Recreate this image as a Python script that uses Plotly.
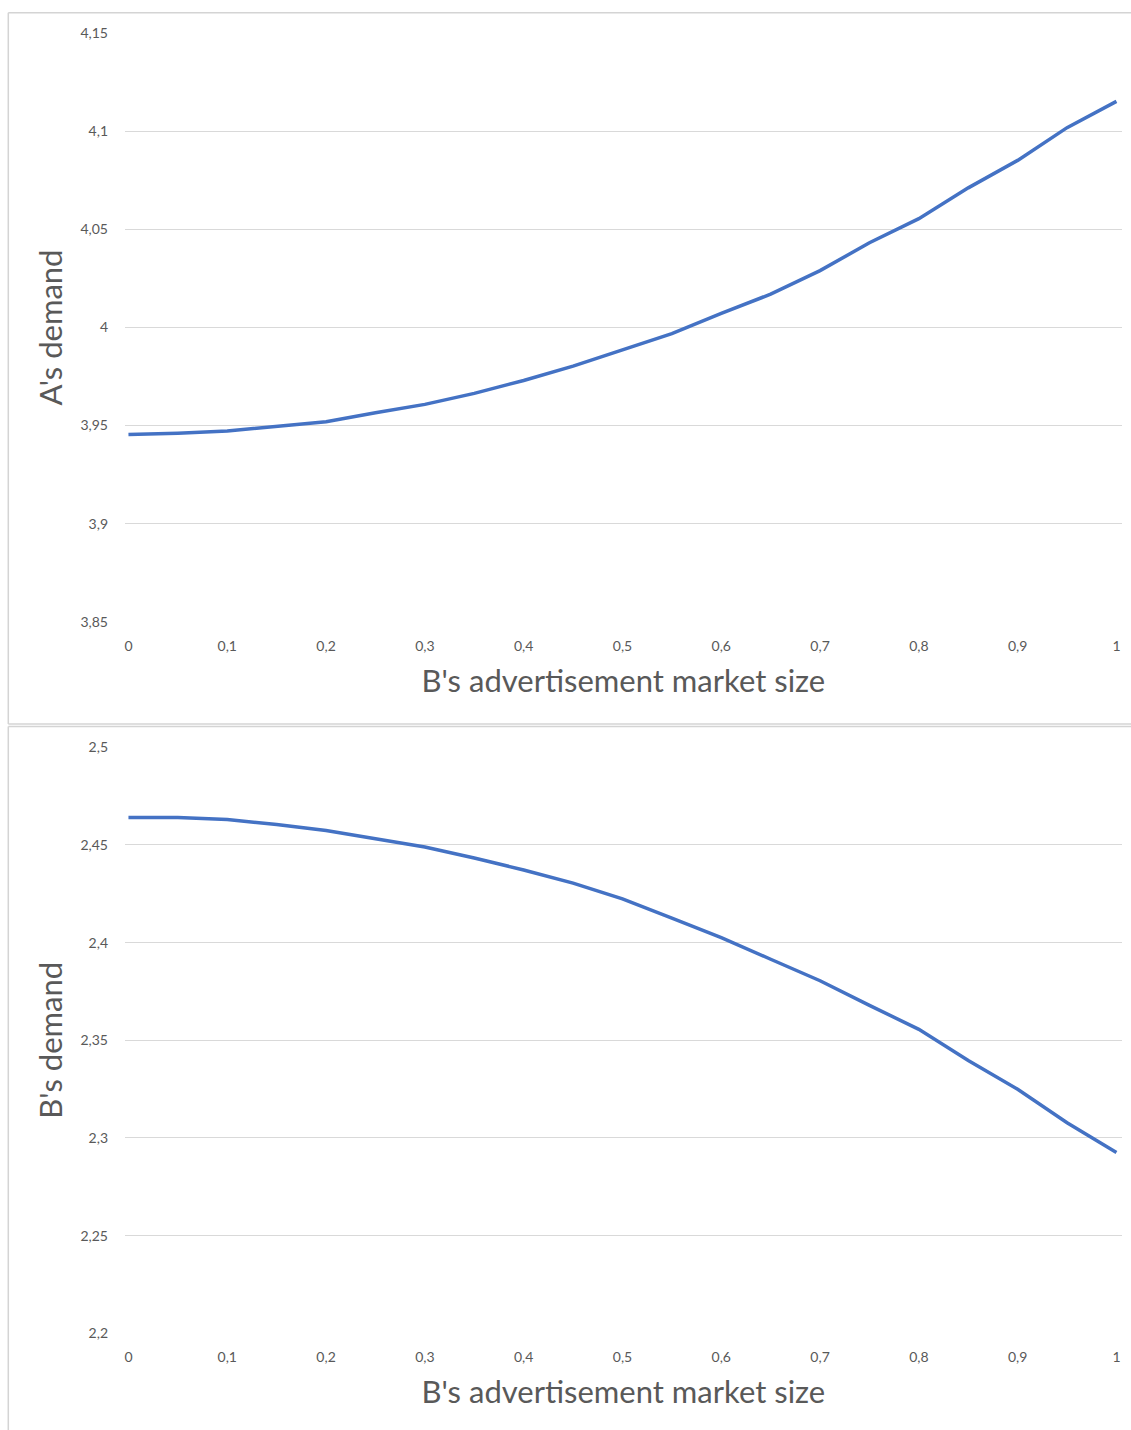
import plotly.graph_objects as go

# B's advertisement market size (horizontal axis, shared by both panels)
market_size = [0.00, 0.05, 0.10, 0.15, 0.20, 0.25, 0.30, 0.35, 0.40, 0.45, 0.50,
               0.55, 0.60, 0.65, 0.70, 0.75, 0.80, 0.85, 0.90, 0.95, 1.00]

# Demand of firm A
demand_a = [3.9455, 3.9461, 3.9472, 3.9494, 3.9520, 3.9565, 3.9608, 3.9664, 3.9730,
            3.9803, 3.9888, 3.9969, 4.0072, 4.0170, 4.0290, 4.0432, 4.0555, 4.0712,
            4.0852, 4.1019, 4.1153]

# Demand of firm B
demand_b = [2.4640, 2.4640, 2.4630, 2.4605, 2.4574, 2.4533, 2.4490, 2.4433, 2.4372,
            2.4305, 2.4224, 2.4126, 2.4026, 2.3915, 2.3805, 2.3679, 2.3556, 2.3397,
            2.3249, 2.3078, 2.2926]

x_ticks = [0, 0.1, 0.2, 0.3, 0.4, 0.5, 0.6, 0.7, 0.8, 0.9, 1]
x_labels = ["0", "0,1", "0,2", "0,3", "0,4", "0,5", "0,6", "0,7", "0,8", "0,9", "1"]

a_ticks = [3.85, 3.9, 3.95, 4.0, 4.05, 4.1, 4.15]
a_labels = ["3,85", "3,9", "3,95", "4", "4,05", "4,1", "4,15"]

b_ticks = [2.2, 2.25, 2.3, 2.35, 2.4, 2.45, 2.5]
b_labels = ["2,2", "2,25", "2,3", "2,35", "2,4", "2,45", "2,5"]

W, H = 1131, 1430
FONT = "Lato, 'Open Sans', sans-serif"
GRID = "#d9d9d9"
FRAME = "#d4d4d4"
TICK_COLOR = "#595959"
LINE_BLUE = "#4472c4"
TITLE_SIZE = 31
TICK_SIZE = 14


def px_x(p):
    return p / W


def px_y(p):
    return 1 - p / H


fig = go.Figure()
fig.add_trace(go.Scatter(x=market_size, y=demand_a, mode="lines",
                         line=dict(color=LINE_BLUE, width=3.5),
                         xaxis="x", yaxis="y", hoverinfo="skip", showlegend=False))
fig.add_trace(go.Scatter(x=market_size, y=demand_b, mode="lines",
                         line=dict(color=LINE_BLUE, width=3.5),
                         xaxis="x2", yaxis="y2", hoverinfo="skip", showlegend=False))

x_domain = [px_x(125), px_x(1121.7)]
x_range = [-0.0035, 1.0053]

common_x = dict(
    range=x_range, domain=x_domain, tickvals=x_ticks, ticktext=x_labels,
    showgrid=False, zeroline=False, showline=False, ticks="",
    ticklabelstandoff=14,
    tickfont=dict(family=FONT, size=TICK_SIZE, color=TICK_COLOR),
    title=dict(text="B's advertisement market size",
               font=dict(family=FONT, size=TITLE_SIZE, color=TICK_COLOR), standoff=17),
)
common_y = dict(
    showgrid=True, gridcolor=GRID, gridwidth=1, zeroline=False, showline=False,
    ticks="", ticklabelstandoff=16,
    tickfont=dict(family=FONT, size=TICK_SIZE, color=TICK_COLOR),
)


def frame_line(x0, y0, x1, y1):
    return dict(type="line", xref="paper", yref="paper",
                x0=px_x(x0), y0=px_y(y0), x1=px_x(x1), y1=px_y(y1),
                line=dict(color=FRAME, width=1.5), layer="below")


fig.update_layout(
    width=W, height=H,
    margin=dict(l=0, r=0, t=0, b=0, pad=0, autoexpand=False),
    paper_bgcolor="white", plot_bgcolor="white",
    xaxis=dict(anchor="y", **common_x),
    xaxis2=dict(anchor="y2", **common_x),
    yaxis=dict(anchor="x", domain=[px_y(621.7), px_y(33.3)], range=[3.85, 4.15],
               tickvals=a_ticks, ticktext=a_labels,
               title=dict(text="A's demand",
                          font=dict(family=FONT, size=TITLE_SIZE, color=TICK_COLOR), standoff=8),
               **common_y),
    yaxis2=dict(anchor="x2", domain=[px_y(1333.3), px_y(747.3)], range=[2.2, 2.5],
                tickvals=b_ticks, ticktext=b_labels,
                title=dict(text="B's demand",
                           font=dict(family=FONT, size=TITLE_SIZE, color=TICK_COLOR), standoff=8),
                **common_y),
    shapes=[
        # upper chart frame
        frame_line(8.3, 12.7, W, 12.7),
        frame_line(8.3, 12.7, 8.3, 724),
        frame_line(8.3, 724, W, 724),
        # lower chart frame
        frame_line(8.3, 726.5, W, 726.5),
        frame_line(8.3, 726.5, 8.3, H),
    ],
)

fig.write_html("out.html")
